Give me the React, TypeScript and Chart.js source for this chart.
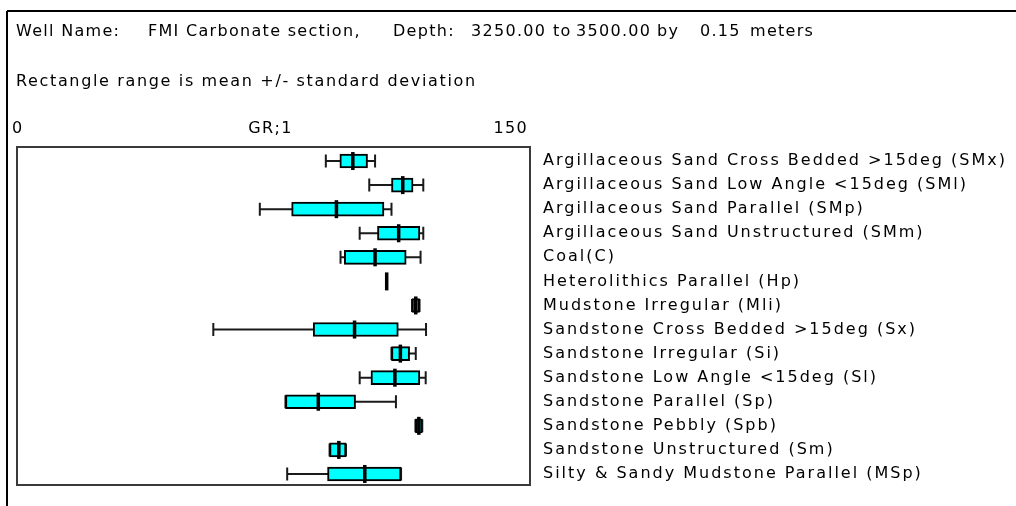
import React, { useEffect, useRef } from "react";
import { Chart, registerables } from "chart.js";

Chart.register(...registerables);

const categories = [
  "Argillaceous Sand Cross Bedded >15deg (SMx)",
  "Argillaceous Sand Low Angle <15deg (SMl)",
  "Argillaceous Sand Parallel (SMp)",
  "Argillaceous Sand Unstructured (SMm)",
  "Coal(C)",
  "Heterolithics Parallel (Hp)",
  "Mudstone Irregular (Mli)",
  "Sandstone Cross Bedded >15deg (Sx)",
  "Sandstone Irregular (Si)",
  "Sandstone Low Angle <15deg (Sl)",
  "Sandstone Parallel (Sp)",
  "Sandstone Pebbly (Spb)",
  "Sandstone Unstructured (Sm)",
  "Silty & Sandy Mudstone Parallel (MSp)",
];

const whiskerLow = [90.3, 103.0, 71.0, 100.2, 94.6, 108.1, 115.5, 57.4, 109.5, 100.2, 78.5, 116.5, 91.4, 79.0];
const boxLow = [94.4, 109.5, 80.3, 105.4, 95.7, 108.1, 115.5, 86.6, 109.5, 103.5, 78.5, 116.5, 91.4, 90.8];
const median = [98.2, 112.8, 93.4, 111.6, 104.7, 108.1, 116.6, 98.7, 112.1, 110.5, 88.1, 117.5, 94.1, 101.7];
const boxHigh = [102.5, 115.8, 107.3, 117.8, 113.8, 108.1, 117.7, 111.5, 114.8, 117.8, 99.0, 118.5, 96.2, 112.3];
const whiskerHigh = [104.7, 118.8, 109.5, 118.8, 118.0, 108.1, 117.7, 119.6, 116.6, 119.5, 110.8, 118.5, 96.2, 112.3];

const axisMin = 0;
const axisMax = 150;
const axisTitle = "GR;1";

const titleParts: [string, number][] = [
  ["Well Name:", 16],
  ["FMI Carbonate section,", 148],
  ["Depth:", 393],
  ["3250.00", 471],
  ["to", 553],
  ["3500.00", 576],
  ["by", 657],
  ["0.15", 700],
  ["meters", 750],
];
const subtitle = "Rectangle range is mean +/- standard deviation";

const FONT = "DejaVu Sans";

const decorPlugin = {
  id: "decor",
  beforeDraw(chart: any) {
    const ctx = chart.ctx;
    ctx.save();
    ctx.fillStyle = "#ffffff";
    ctx.fillRect(0, 0, chart.width, chart.height);
    ctx.strokeStyle = "#000000";
    ctx.lineWidth = 2;
    ctx.beginPath();
    ctx.moveTo(7, 11);
    ctx.lineTo(chart.width, 11);
    ctx.moveTo(7, 11);
    ctx.lineTo(7, chart.height);
    ctx.stroke();
    ctx.restore();
    (ctx as any).letterSpacing = "2px";
  },
  beforeDatasetsDraw(chart: any) {
    const ctx = chart.ctx;
    const xs = chart.scales.x;
    const ys = chart.scales.y;
    ctx.save();
    ctx.strokeStyle = "#1a1a1a";
    ctx.lineWidth = 2;
    categories.forEach((_, i) => {
      const y = ys.getPixelForValue(i);
      const x1 = xs.getPixelForValue(whiskerLow[i]);
      const x2 = xs.getPixelForValue(whiskerHigh[i]);
      if (x2 - x1 < 0.5) return;
      ctx.beginPath();
      ctx.moveTo(x1, y);
      ctx.lineTo(x2, y);
      ctx.moveTo(x1, y - 6.5);
      ctx.lineTo(x1, y + 6.5);
      ctx.moveTo(x2, y - 6.5);
      ctx.lineTo(x2, y + 6.5);
      ctx.stroke();
    });
    ctx.restore();
  },
  afterDatasetsDraw(chart: any) {
    const ctx = chart.ctx;
    const xs = chart.scales.x;
    const ys = chart.scales.y;
    ctx.save();
    ctx.strokeStyle = "#000000";
    ctx.lineWidth = 3.5;
    categories.forEach((_, i) => {
      const y = ys.getPixelForValue(i);
      const xm = xs.getPixelForValue(median[i]);
      ctx.beginPath();
      ctx.moveTo(xm, y - 9);
      ctx.lineTo(xm, y + 9);
      ctx.stroke();
    });
    const a = chart.chartArea;
    ctx.strokeStyle = "#3a3a3a";
    ctx.lineWidth = 2;
    ctx.strokeRect(a.left, a.top - 2, a.right - a.left, a.bottom - a.top + 1);
    ctx.restore();
  },
  afterDraw(chart: any) {
    const ctx = chart.ctx;
    const a = chart.chartArea;
    const xs = chart.scales.x;
    ctx.save();
    ctx.fillStyle = "#000000";
    ctx.font = `16px "${FONT}"`;
    ctx.textBaseline = "middle";
    ctx.textAlign = "left";
    (ctx as any).letterSpacing = "1.3px";
    titleParts.forEach(([t, x]) => ctx.fillText(t, x, 32));
    (ctx as any).letterSpacing = "1.65px";
    ctx.fillText(subtitle, 16, 82);
    (ctx as any).letterSpacing = "1.3px";
    ctx.fillText(String(axisMin), xs.getPixelForValue(axisMin) - 5, 129);
    ctx.textAlign = "center";
    ctx.fillText(axisTitle, (a.left + a.right) / 2 - 3, 129);
    ctx.textAlign = "right";
    ctx.fillText(String(axisMax), xs.getPixelForValue(axisMax) - 2, 129);
    ctx.restore();
  },
};

export default function App() {
  const ref = useRef<HTMLCanvasElement | null>(null);
  useEffect(() => {
    if (!ref.current) return;
    const chart = new Chart(ref.current, {
      type: "bar",
      data: {
        labels: categories,
        datasets: [
          {
            data: categories.map((_, i) => [boxLow[i], boxHigh[i]]) as any,
            backgroundColor: "#00ffff",
            borderColor: "#000000",
            borderWidth: 2,
            borderSkipped: false,
            barThickness: 14,
          },
        ],
      },
      options: {
        indexAxis: "y",
        animation: false,
        responsive: false,
        devicePixelRatio: 1,
        layout: { padding: { left: 17, top: 149, bottom: 20, right: 0 } },
        plugins: { legend: { display: false }, tooltip: { enabled: false } },
        scales: {
          x: { type: "linear", min: axisMin, max: axisMax, display: false },
          y: {
            type: "category",
            position: "right",
            grid: { display: false, drawTicks: false },
            border: { display: false },
            ticks: {
              color: "#000000",
              padding: 13,
              font: { family: FONT, size: 16 },
              autoSkip: false,
            },
            afterFit: (scale: any) => {
              scale.width = 486;
              scale.paddingTop = 0;
              scale.paddingBottom = 0;
            },
          },
        },
      },
      plugins: [decorPlugin],
    });
    return () => chart.destroy();
  }, []);
  return (
    <div style={{ position: "absolute", left: 0, top: 0, width: 1016, height: 506 }}>
      <canvas ref={ref} width={1016} height={506} />
    </div>
  );
}
